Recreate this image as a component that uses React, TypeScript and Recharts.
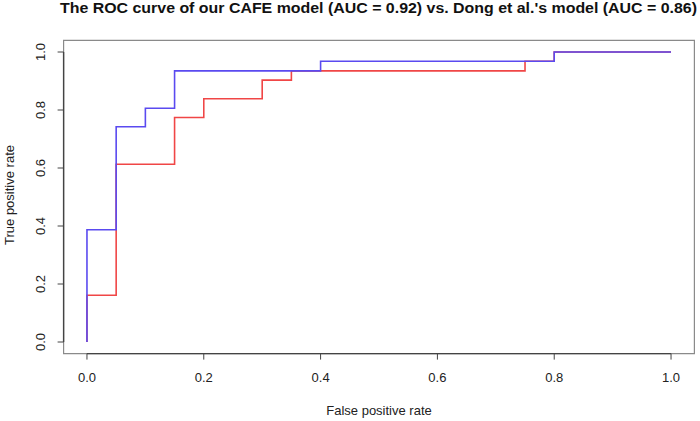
import React from 'react';
import { LineChart, Line, XAxis, YAxis, ReferenceArea, ReferenceLine } from 'recharts';

// ROC step vertices (stepAfter): false positive rate / true positive rate
const cafeFpr = [0, 0, 0.05, 0.1, 0.15, 0.4, 0.8, 1.0];
const cafeTpr = [0, 0.387, 0.742, 0.806, 0.935, 0.968, 1.0, 1.0];

const dongFpr = [0, 0, 0.05, 0.15, 0.2, 0.3, 0.35, 0.75, 0.8, 1.0];
const dongTpr = [0, 0.161, 0.613, 0.774, 0.839, 0.903, 0.935, 0.968, 1.0, 1.0];

const tickValues = [0, 0.2, 0.4, 0.6, 0.8, 1.0];
const titleText = "The ROC curve of our CAFE model (AUC = 0.92) vs. Dong et al.'s model (AUC = 0.86)";
const xLabel = 'False positive rate';
const yLabel = 'True positive rate';

const cafeData = cafeFpr.map((f, i) => ({ fpr: f, tpr: cafeTpr[i] }));
const dongData = dongFpr.map((f, i) => ({ fpr: f, tpr: dongTpr[i] }));

const FONT = '"Liberation Sans", Arial, Helvetica, sans-serif';
const BLUE = '#5a4af0';
const RED = '#f04646';

const YTick = (props: any) => {
  const { x, y, payload } = props;
  const tx = x - 11;
  return (
    <text
      x={tx}
      y={y}
      transform={`rotate(-90, ${tx}, ${y})`}
      textAnchor="middle"
      fontSize={13}
      fontFamily={FONT}
      fill="#222"
    >
      {Number(payload.value).toFixed(1)}
    </text>
  );
};

const XTick = (props: any) => {
  const { x, y, payload } = props;
  return (
    <text x={x} y={y + 20.5} textAnchor="middle" fontSize={13} fontFamily={FONT} fill="#222">
      {Number(payload.value).toFixed(1)}
    </text>
  );
};

const YLabelContent = (props: any) => {
  const vb = props.viewBox || { x: 0, y: 0, width: 0, height: 0 };
  const tx = vb.x + 14.3;
  const ty = vb.y + vb.height / 2 - 2;
  return (
    <text
      x={tx}
      y={ty}
      transform={`rotate(-90, ${tx}, ${ty})`}
      textAnchor="middle"
      fontSize={13}
      fontFamily={FONT}
      fill="#222"
    >
      {yLabel}
    </text>
  );
};

const XLabelContent = (props: any) => {
  const vb = props.viewBox || { x: 0, y: 0, width: 0, height: 0 };
  return (
    <text
      x={vb.x + vb.width / 2}
      y={vb.y + 61}
      textAnchor="middle"
      fontSize={13}
      fontFamily={FONT}
      fill="#222"
    >
      {xLabel}
    </text>
  );
};

export default function App() {
  return (
    <div style={{ position: 'absolute', left: 0, top: 0, width: 700, height: 421, background: '#fff' }}>
      <LineChart
        width={700}
        height={421}
        margin={{ top: 40.4, right: 5.6, bottom: 0, left: 0 }}
      >
        <XAxis
          dataKey="fpr"
          type="number"
          domain={[-0.04, 1.04]}
          allowDataOverflow
          ticks={tickValues}
          height={67.4}
          axisLine={false}
          tickLine={{ stroke: '#444', strokeWidth: 1 }}
          tickSize={6}
          tick={<XTick />}
          label={<XLabelContent />}
        />
        <YAxis
          dataKey="tpr"
          type="number"
          domain={[-0.04, 1.04]}
          allowDataOverflow
          ticks={tickValues}
          width={63.6}
          axisLine={false}
          tickLine={{ stroke: '#444', strokeWidth: 1 }}
          tickSize={6}
          tick={<YTick />}
          label={<YLabelContent />}
        />
        <ReferenceArea
          x1={-0.04}
          x2={1.04}
          y1={-0.04}
          y2={1.04}
          fill="none"
          fillOpacity={0}
          stroke="#8a8a8a"
          strokeWidth={1.2}
          ifOverflow="visible"
        />
        <ReferenceLine
          segment={[{ x: 0, y: -0.04 }, { x: 1, y: -0.04 }]}
          stroke="#444"
          strokeWidth={1.4}
          ifOverflow="visible"
        />
        <ReferenceLine
          segment={[{ x: -0.04, y: 0 }, { x: -0.04, y: 1 }]}
          stroke="#444"
          strokeWidth={1.4}
          ifOverflow="visible"
        />
        <Line
          data={dongData}
          dataKey="tpr"
          type="stepAfter"
          stroke={RED}
          strokeWidth={1.6}
          dot={false}
          activeDot={false}
          isAnimationActive={false}
        />
        <Line
          data={cafeData}
          dataKey="tpr"
          type="stepAfter"
          stroke={BLUE}
          strokeWidth={1.6}
          dot={false}
          activeDot={false}
          isAnimationActive={false}
        />
      </LineChart>
      <svg
        width={700}
        height={30}
        style={{ position: 'absolute', left: 0, top: 0, pointerEvents: 'none' }}
      >
        <text
          x={378.5}
          y={13}
          textAnchor="middle"
          fontSize={14}
          fontWeight="bold"
          fontFamily={FONT}
          fill="#111"
          textLength={637}
          lengthAdjust="spacingAndGlyphs"
        >
          {titleText}
        </text>
      </svg>
    </div>
  );
}
